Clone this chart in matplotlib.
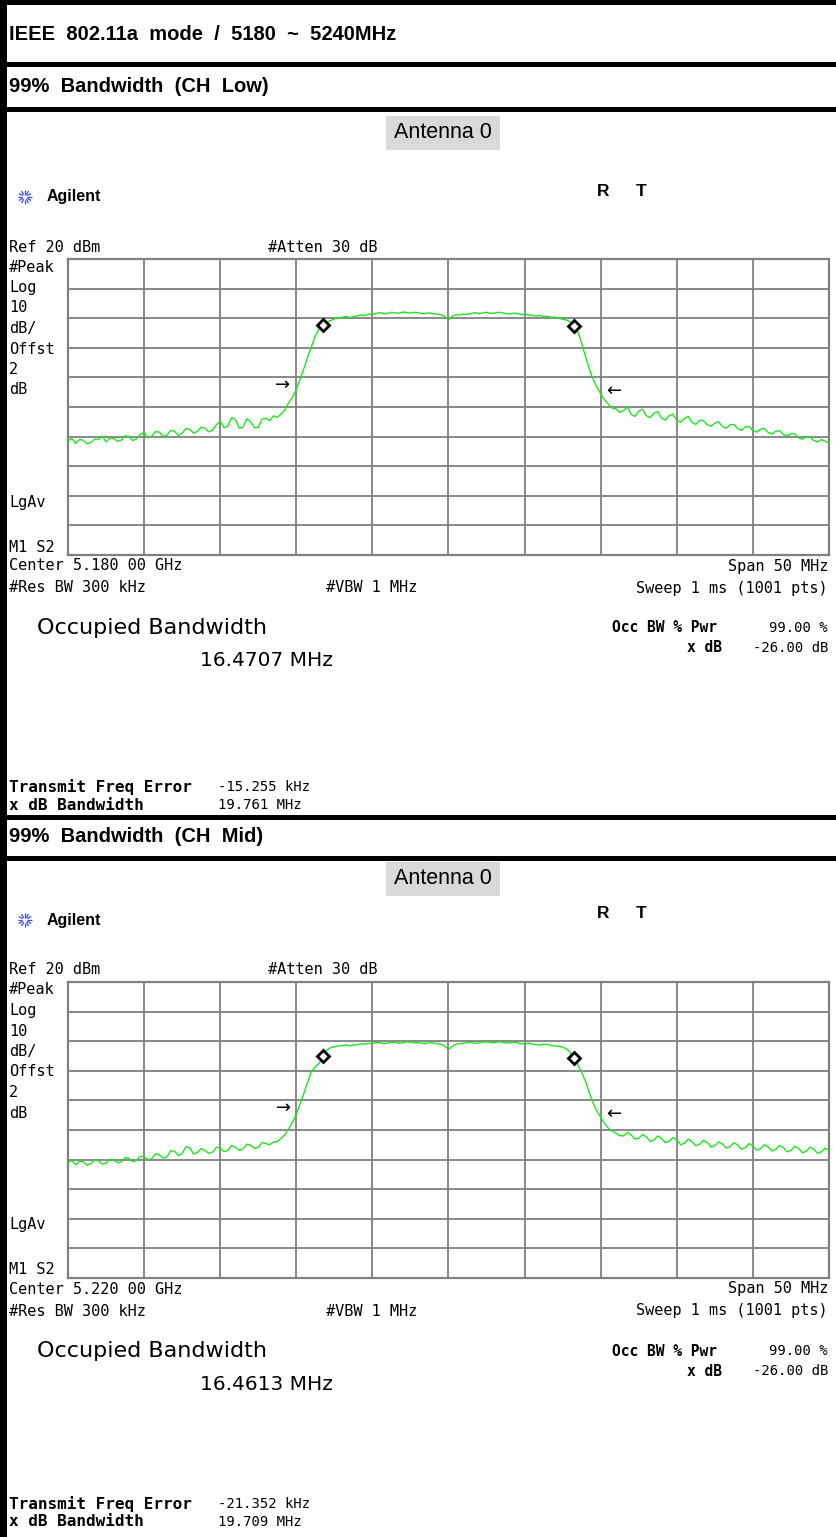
import numpy as np
import matplotlib
matplotlib.use("Agg")
import matplotlib.pyplot as plt

# ---------------- data ----------------
TITLE = "IEEE  802.11a  mode  /  5180  ~  5240MHz"
HEADERS = ["99%  Bandwidth  (CH  Low)", "99%  Bandwidth  (CH  Mid)"]
ANTENNA = "Antenna 0"
CENTER_LABELS = ["Center 5.180 00 GHz", "Center 5.220 00 GHz"]
OBW_MHZ = [16.4707, 16.4613]
XDB_BW_MHZ = [19.761, 19.709]
FREQ_ERR_KHZ = [-15.255, -21.352]
SPAN_MHZ = 50
REF_DBM = 20
DB_PER_DIV = 10
N_DIV = 10

# trace levels (dBm) at -25 ... +25 MHz from centre, 0.25 MHz step
TRACE_LOW = [
    -41.5, -40.6, -42.3, -41.0, -41.2, -42.4, -42.0, -40.9, -41.0, -39.8,
    -41.8, -40.5, -40.6, -41.6, -41.2, -39.7, -40.0, -41.3, -40.8, -39.2,
    -38.6, -40.4, -39.8, -38.3, -38.5, -40.0, -39.5, -37.9, -38.2, -39.6,
    -38.9, -37.3, -37.6, -38.8, -38.3, -36.8, -37.2, -38.4, -37.8, -36.0,
    -34.8, -37.0, -36.4, -33.6, -34.2, -37.2, -36.8, -34.0, -34.9, -37.0,
    -36.9, -34.1, -33.8, -34.6, -33.0, -33.5, -32.4, -31.0, -28.5, -26.8,
    -24.0, -20.6, -17.0, -13.0, -9.5, -6.0, -3.5, -2.2, -1.2, -0.8,
    -0.2, 0.0, 0.3, 0.6, 0.2, 0.5, 0.8, 1.1, 0.9, 1.4,
    1.3, 1.6, 1.9, 1.5, 1.6, 2.0, 1.8, 1.7, 2.1, 1.9,
    1.7, 2.0, 1.9, 1.5, 1.6, 1.8, 1.5, 1.4, 1.2, 0.6,
    -0.6, 0.7, 1.2, 1.1, 1.4, 1.3, 1.6, 1.9, 1.5, 1.8,
    2.0, 1.6, 1.7, 2.0, 1.9, 1.5, 1.4, 1.7, 1.6, 1.2,
    1.3, 1.1, 1.0, 0.7, 0.9, 0.6, 0.6, 0.3, 0.4, 0.0,
    -0.4, -0.6, -1.2, -2.6, -4.5, -8.5, -13.0, -17.2, -20.5, -23.4,
    -25.5, -27.6, -29.0, -30.4, -30.6, -31.8, -31.2, -30.0, -32.5, -33.2,
    -31.4, -30.8, -33.0, -33.6, -32.1, -31.6, -33.8, -34.4, -32.9, -32.4,
    -34.6, -35.2, -33.9, -33.2, -35.2, -35.9, -34.5, -34.6, -36.0, -36.5,
    -35.4, -35.0, -36.6, -37.2, -36.0, -35.9, -37.3, -37.9, -36.8, -36.6,
    -38.0, -38.5, -37.5, -37.2, -38.6, -39.1, -38.2, -38.0, -39.3, -39.8,
    -39.0, -39.1, -40.4, -40.9, -40.0, -40.2, -41.3, -41.8, -41.0, -41.5,
    -42.2,
]
TRACE_MID = [
    -41.0, -40.2, -41.8, -40.6, -40.7, -41.9, -41.4, -40.1, -40.4, -41.5,
    -41.2, -39.9, -40.1, -41.1, -40.8, -39.3, -39.6, -40.7, -40.3, -38.9,
    -39.0, -40.1, -39.7, -38.0, -38.4, -39.5, -39.1, -37.0, -37.2, -38.6,
    -38.0, -35.6, -36.0, -38.1, -37.6, -36.3, -36.9, -37.9, -37.5, -35.8,
    -36.2, -37.3, -36.9, -35.2, -35.8, -36.9, -36.4, -34.8, -35.1, -36.2,
    -35.9, -34.2, -34.6, -35.0, -34.0, -33.9, -32.8, -31.6, -29.5, -27.4,
    -24.8, -21.2, -17.5, -13.8, -10.2, -8.6, -7.5, -5.2, -3.0, -2.2,
    -1.9, -1.6, -1.5, -1.2, -1.6, -1.3, -1.2, -0.9, -1.0, -0.7,
    -0.8, -0.4, -0.5, -0.8, -0.7, -0.3, -0.4, -0.7, -0.6, -0.2,
    -0.3, -0.6, -0.5, -0.7, -0.8, -0.5, -0.6, -0.9, -1.0, -1.6,
    -2.8, -1.7, -1.0, -0.8, -0.7, -0.5, -0.4, -0.7, -0.6, -0.3,
    -0.2, -0.5, -0.5, -0.2, -0.3, -0.6, -0.6, -0.4, -0.5, -0.9,
    -0.8, -0.7, -0.9, -1.2, -1.3, -1.0, -1.1, -1.5, -1.6, -1.7,
    -2.0, -2.6, -3.8, -5.8, -8.0, -10.6, -13.5, -17.4, -20.8, -23.6,
    -25.8, -27.8, -29.3, -30.4, -31.0, -31.9, -32.0, -30.8, -31.6, -33.1,
    -32.8, -31.5, -32.3, -33.9, -33.4, -32.0, -32.9, -34.3, -33.8, -32.6,
    -33.3, -35.0, -34.5, -33.1, -33.9, -35.3, -34.8, -33.5, -34.2, -35.8,
    -35.3, -34.0, -34.7, -36.1, -35.6, -34.3, -35.0, -36.5, -36.0, -34.6,
    -35.4, -36.8, -36.3, -35.0, -35.7, -37.1, -36.6, -35.2, -35.9, -37.4,
    -36.9, -35.5, -36.2, -37.7, -37.2, -35.8, -36.5, -37.9, -37.4, -36.1,
    -36.9,
]
TRACES = [TRACE_LOW, TRACE_MID]

# ---------------- layout (pixels) ----------------
W, H = 837, 1537
fig = plt.figure(figsize=(W / 100, H / 100), dpi=100)
bg = fig.add_axes([0, 0, 1, 1])
bg.set_xlim(0, W)
bg.set_ylim(H, 0)
bg.axis("off")

MONO = "DejaVu Sans Mono"
SANS = "Liberation Sans"

def bar(y0, y1):
    bg.fill_between([0, W], y0, y1, color="black", lw=0)

# frame
bg.fill_betweenx([0, H], 0, 7, color="black", lw=0)
bar(0, 5)
bar(62, 67)
bar(107, 112)
bar(815, 820)
bar(856, 861)

bg.text(9, 35, TITLE, fontsize=14.5, fontweight="bold", family=SANS, va="center")
header_y = [87, 837]
for hy, ht in zip(header_y, HEADERS):
    bg.text(9, hy, ht, fontsize=14.5, fontweight="bold", family=SANS, va="center")

GRID_GRAY = "#808080"
panel_offsets = [0, 723]
antenna_y = [133, 879]
text_bottom_y = [787, 1504]

for p in range(2):
    o = panel_offsets[p]
    # antenna label
    ay = antenna_y[p]
    bg.fill_between([386, 500], ay - 17, ay + 17, color="#d9d9d9", lw=0)
    bg.text(443, ay, ANTENNA, fontsize=15.5, family=SANS, ha="center", va="center")

    # Agilent logo + name
    cx, cy = 25, 197 + o
    for ang in np.arange(0, 360, 30):
        r = np.deg2rad(ang)
        bg.plot([cx + 2.5 * np.cos(r), cx + 7 * np.cos(r)],
                [cy + 2.5 * np.sin(r), cy + 7 * np.sin(r)],
                color="#3a46ff", lw=0.9, solid_capstyle="butt")
    bg.text(47, 197 + o, "Agilent", fontsize=11.5, fontweight="bold", family=SANS, va="center")
    bg.text(603, 191 + o, "R", fontsize=12.5, fontweight="bold", family=SANS, ha="center", va="center")
    bg.text(641, 191 + o, "T", fontsize=12.5, fontweight="bold", family=SANS, ha="center", va="center")

    bg.text(9, 247 + o, "Ref 20 dBm", fontsize=11, family=MONO, va="center")
    bg.text(268, 247 + o, "#Atten 30 dB", fontsize=11, family=MONO, va="center")
    for i, lab in enumerate(["#Peak", "Log", "10", "dB/", "Offst", "2", "dB"]):
        bg.text(9, 267 + o + i * 20.5, lab, fontsize=11, family=MONO, va="center")
    bg.text(9, 502 + o, "LgAv", fontsize=11, family=MONO, va="center")
    bg.text(9, 547 + o, "M1 S2", fontsize=11, family=MONO, va="center")

    bg.text(9, 566 + o, CENTER_LABELS[p], fontsize=11, family=MONO, va="center")
    bg.text(828, 566 + o, f"Span {SPAN_MHZ} MHz", fontsize=11, family=MONO, va="center", ha="right")
    bg.text(9, 588 + o, "#Res BW 300 kHz", fontsize=11, family=MONO, va="center")
    bg.text(326, 588 + o, "#VBW 1 MHz", fontsize=11, family=MONO, va="center")
    bg.text(828, 588 + o, "Sweep 1 ms (1001 pts)", fontsize=11, family=MONO, va="center", ha="right")

    bg.text(37, 628 + o, "Occupied Bandwidth", fontsize=16, family="DejaVu Sans", va="center")
    bg.text(200, 661 + o, f"{OBW_MHZ[p]:.4f} MHz", fontsize=14.5, family="DejaVu Sans", va="center")
    bg.text(612, 628 + o, "Occ BW % Pwr", fontsize=10.5, fontweight="bold", family=MONO, va="center")
    bg.text(828, 628 + o, "99.00 %", fontsize=10, family=MONO, va="center", ha="right")
    bg.text(722, 648 + o, "x dB", fontsize=10.5, fontweight="bold", family=MONO, va="center", ha="right")
    bg.text(828, 648 + o, "-26.00 dB", fontsize=10, family=MONO, va="center", ha="right")

    ty = text_bottom_y[p]
    bg.text(9, ty, "Transmit Freq Error", fontsize=11.5, fontweight="bold", family=MONO, va="center")
    bg.text(218, ty, f"{FREQ_ERR_KHZ[p]:.3f} kHz", fontsize=10, family=MONO, va="center")
    bg.text(9, ty + 18, "x dB Bandwidth", fontsize=11.5, fontweight="bold", family=MONO, va="center")
    bg.text(218, ty + 18, f"{XDB_BW_MHZ[p]:.3f} MHz", fontsize=10, family=MONO, va="center")

    # spectrum graticule axes
    gx0, gx1 = 68, 829
    gy0, gy1 = 259 + o, 555 + o
    ax = fig.add_axes([gx0 / W, 1 - gy1 / H, (gx1 - gx0) / W, (gy1 - gy0) / H])
    ax.set_facecolor("white")
    fmin, fmax = -SPAN_MHZ / 2, SPAN_MHZ / 2
    ymin = REF_DBM - N_DIV * DB_PER_DIV
    ax.set_xlim(fmin, fmax)
    ax.set_ylim(ymin, REF_DBM)
    ax.set_xticks(np.linspace(fmin, fmax, N_DIV + 1))
    ax.set_yticks(np.linspace(ymin, REF_DBM, N_DIV + 1))
    ax.grid(True, color=GRID_GRAY, lw=1.3)
    ax.tick_params(length=0, labelbottom=False, labelleft=False)
    for s in ax.spines.values():
        s.set_color(GRID_GRAY)
        s.set_linewidth(1.6)

    lv = np.array(TRACES[p])
    fr = np.linspace(fmin, fmax, len(lv))
    ax.plot(fr, lv, color="#1ee61e", lw=1.0, zorder=3, clip_on=True)

    # OBW markers (diamonds)
    for edge in (-OBW_MHZ[p] / 2, OBW_MHZ[p] / 2):
        ax.plot([edge], [np.interp(edge, fr, lv)], marker="D", ms=6.5, mfc="white",
                mec="black", mew=2, zorder=4)
    # x dB arrows
    left = -XDB_BW_MHZ[p] / 2
    right = XDB_BW_MHZ[p] / 2
    ax.text(left - 0.5, np.interp(left, fr, lv), "→", fontsize=13, family="DejaVu Sans",
            ha="right", va="center", zorder=4)
    ax.text(right + 0.5, np.interp(right, fr, lv), "←", fontsize=13, family="DejaVu Sans",
            ha="left", va="center", zorder=4)

fig.savefig("out.png", dpi=100)
